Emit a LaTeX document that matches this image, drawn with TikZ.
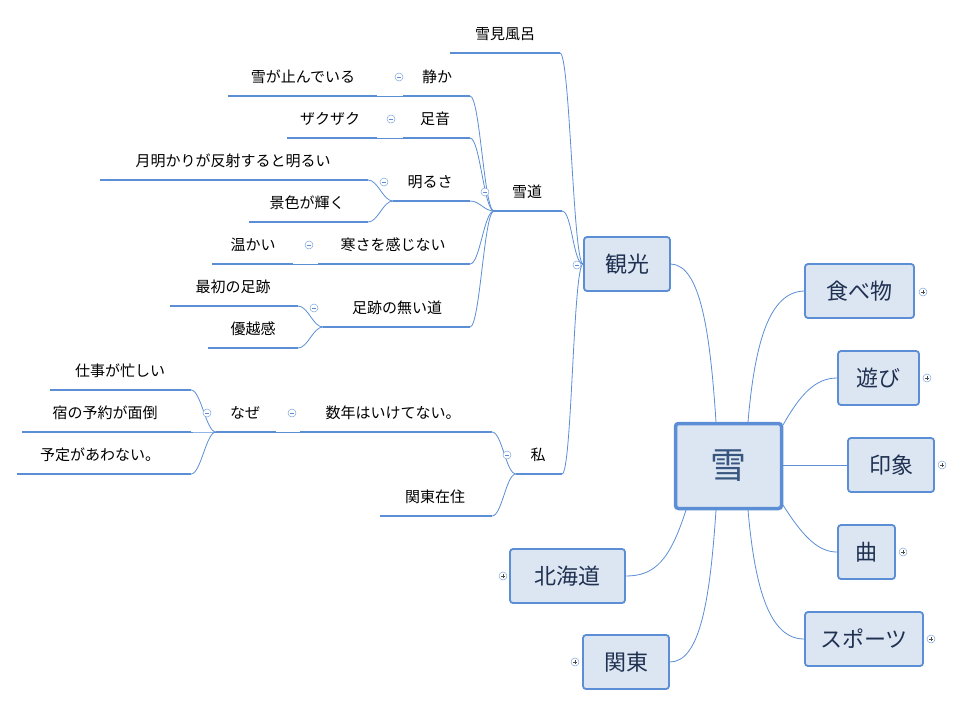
\documentclass[tikz,border=0pt]{standalone}
\usepackage{fontspec}
\newfontfamily\cjk{Noto Sans CJK JP}
\begin{document}
\definecolor{bl}{HTML}{5B8ED4}
\definecolor{bfill}{HTML}{DCE6F2}
\definecolor{btext}{HTML}{1F3050}
\begin{tikzpicture}[x=1pt,y=-1pt,
  conn/.style={draw=bl,line width=0.8pt},
  uline/.style={draw=bl,line width=2.4pt},
  lt/.style={font=\cjk\fontsize{15}{15}\selectfont,text=black,inner sep=0pt},
  box/.style={draw=bl,fill=bfill,line width=1.8pt,rounded corners=3pt,font=\cjk\fontsize{22}{22}\selectfont,text=btext},
  tog/.style={circle,draw=bl!80,fill=white,line width=0.5pt,minimum size=8pt,inner sep=0pt}]
\useasboundingbox (0,0) rectangle (963,707);
\newcommand\leaf[6]{% name x1 x2 y tx text
  \coordinate (#1-l) at (#2,#4);
  \coordinate (#1-r) at (#3,#4);
  \draw[uline] (#1-l) -- (#1-r);
  \node[lt] (#1) at (#5,#4-19) {#6};}
\newcommand\mn[3]{\node[tog] (#1) at (#2,#3) {}; \draw[bl,line width=0.5pt] (#2-2.2,#3) -- (#2+2.2,#3);}
\newcommand\pn[3]{\node[tog] (#1) at (#2,#3) {}; \draw[black!70,line width=0.5pt] (#2-2.2,#3) -- (#2+2.2,#3) (#2,#3-2.2) -- (#2,#3+2.2);}
\newcommand\cc[2]{\draw[conn] (#1) .. controls +(-10,0) and +(10,0) .. (#2);}

% boxes
\node[box,minimum width=106pt,minimum height=85pt,line width=3.5pt,font=\cjk\fontsize{36}{36}\selectfont,text=bl!60!black] (c) at (728.5,466) {雪};
\node[box,minimum width=86pt,minimum height=54pt] (kk) at (627,264) {観光};
\node[box,minimum width=109pt,minimum height=54pt] (tb) at (859.5,291) {食べ物};
\node[box,minimum width=81pt,minimum height=54pt] (as) at (878.5,378) {遊び};
\node[box,minimum width=86pt,minimum height=54pt] (in) at (891,465) {印象};
\node[box,minimum width=57pt,minimum height=54pt] (ky) at (866.5,552) {曲};
\node[box,minimum width=118pt,minimum height=54pt] (sp) at (864,639) {スポーツ};
\node[box,minimum width=115pt,minimum height=54pt] (hk) at (567.5,576) {北海道};
\node[box,minimum width=86pt,minimum height=54pt] (kt) at (626,662) {関東};

\pn{p1}{923}{292}\pn{p2}{927}{378}\pn{p3}{942}{465}\pn{p4}{903}{552}\pn{p5}{931}{639}
\pn{p6}{503}{576}\pn{p7}{575}{662}

% center connectors
\draw[conn] (716,422) .. controls (710,330) and (700,265) .. (kk.east);
\draw[conn] (748,422) .. controls (755,340) and (770,292) .. (tb.west);
\draw[conn] (783,425) .. controls (800,395) and (815,378) .. (as.west);
\draw[conn] (783,465) -- (in.west);
\draw[conn] (783,505) .. controls (805,540) and (820,552) .. (ky.west);
\draw[conn] (748,510) .. controls (755,590) and (770,639) .. (sp.west);
\draw[conn] (686,510) .. controls (670,560) and (655,576) .. (hk.east);
\draw[conn] (716,510) .. controls (710,600) and (700,662) .. (kt.east);

% leaves
\leaf{ymf}{450}{560}{53}{505}{雪見風呂}
\leaf{yd}{494}{562}{211}{527}{雪道}
\leaf{wt}{516}{562}{474}{538}{私}
\leaf{sz}{403}{470}{96}{437}{静か}
\leaf{ya}{228}{377}{96}{303}{雪が止んでいる}
\leaf{as2}{403}{470}{138}{435}{足音}
\leaf{zk}{287}{377}{138}{330}{ザクザク}
\leaf{ak}{393}{470}{201}{430}{明るさ}
\leaf{tk}{100}{368}{180}{233}{月明かりが反射すると明るい}
\leaf{ks}{249}{368}{222}{307}{景色が輝く}
\leaf{sk}{318}{470}{264}{393}{寒さを感じない}
\leaf{at}{212}{293}{264}{253}{温かい}
\leaf{an}{323}{470}{327}{397}{足跡の無い道}
\leaf{sa}{170}{298}{306}{233}{最初の足跡}
\leaf{ye}{208}{298}{348}{253}{優越感}
\leaf{sn}{300}{492}{432}{393}{数年はいけてない。}
\leaf{nz}{216}{276}{432}{245}{なぜ}
\leaf{si}{50}{191}{390}{120}{仕事が忙しい}
\leaf{ys}{22}{191}{432}{105}{宿の予約が面倒}
\leaf{yt}{17}{191}{474}{100}{予定があわない。}
\leaf{kz}{380}{492}{516}{435}{関東在住}

% connectors
\cc{kk.west}{ymf-r}\cc{kk.west}{yd-r}\cc{kk.west}{wt-r}
\cc{yd-l}{sz-r}\cc{yd-l}{as2-r}\cc{yd-l}{ak-r}\cc{yd-l}{sk-r}\cc{yd-l}{an-r}
\draw[conn] (sz-l) -- (ya-r); \draw[conn] (as2-l) -- (zk-r); \draw[conn] (sk-l) -- (at-r);
\cc{ak-l}{tk-r}\cc{ak-l}{ks-r}
\cc{an-l}{sa-r}\cc{an-l}{ye-r}
\cc{wt-l}{sn-r}\cc{wt-l}{kz-r}
\draw[conn] (sn-l) -- (nz-r);
\cc{nz-l}{si-r}\cc{nz-l}{ys-r}\cc{nz-l}{yt-r}

% toggles
\mn{m1}{577}{265}\mn{m2}{485}{192}\mn{m3}{507}{455}\mn{m4}{399}{77}\mn{m5}{391}{119}
\mn{m6}{384}{182}\mn{m7}{309}{245}\mn{m8}{314}{308}\mn{m9}{292}{413}\mn{m10}{207}{413}
\end{tikzpicture}
\end{document}
